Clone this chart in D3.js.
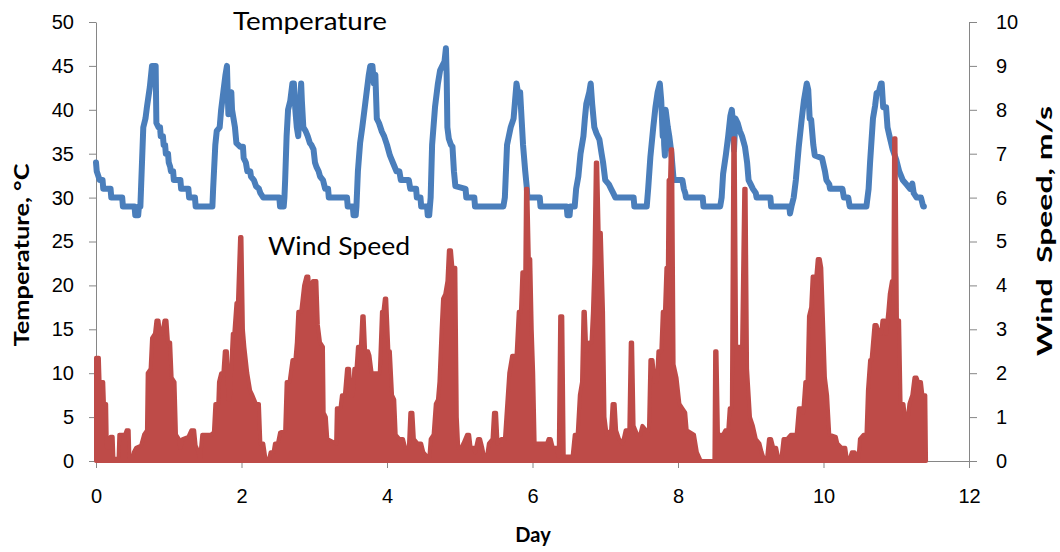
<!DOCTYPE html>
<html>
<head>
<meta charset="utf-8">
<script src="https://cdn.jsdelivr.net/npm/d3@7"></script>
<style>
  body { margin: 0; background: #fff; }
  svg { display: block; font-family: Lato, "Open Sans", sans-serif; }
  .axis path, .axis line { stroke: #868686; }
  .axis text { font-size: 20px; fill: #000; }
</style>
</head>
<body>
<svg id="chart" width="1060" height="552"></svg>
<script>
// day of each temperature reading, and the reading (deg C)
var tempDay = [0.00,0.01,0.03,0.05,0.09,0.10,0.20,0.21,0.36,0.37,0.53,0.54,0.58,0.59,0.61,0.65,0.68,0.70,0.74,0.77,0.82,0.83,0.86,0.88,0.89,0.92,0.93,0.95,0.96,0.99,
  1.00,1.02,1.03,1.06,1.07,1.16,1.17,1.27,1.28,1.36,1.37,1.60,1.61,1.64,1.66,1.70,1.72,1.75,1.78,1.80,1.81,1.82,1.84,1.86,1.87,1.89,1.91,1.93,1.98,
  2.02,2.03,2.06,2.08,2.12,2.13,2.17,2.20,2.24,2.26,2.30,2.52,2.53,2.58,2.59,2.60,2.62,2.64,2.67,2.70,2.72,2.74,2.76,2.78,2.80,2.82,2.83,2.85,2.88,2.91,2.94,2.96,2.99,
  3.01,3.03,3.06,3.08,3.12,3.15,3.19,3.20,3.45,3.46,3.53,3.54,3.57,3.58,3.60,3.63,3.66,3.69,3.72,3.75,3.77,3.80,3.82,3.84,3.86,3.89,3.93,3.96,
  4.00,4.04,4.08,4.13,4.17,4.19,4.30,4.32,4.40,4.41,4.46,4.47,4.55,4.56,4.58,4.60,4.62,4.66,4.70,4.73,4.76,4.79,4.81,4.82,4.83,4.85,4.88,4.90,4.92,4.94,
  5.08,5.09,5.20,5.21,5.60,5.62,5.65,5.70,5.74,5.76,5.78,5.80,5.83,5.85,5.87,5.90,5.92,5.93,
  6.10,6.11,6.47,6.48,6.51,6.52,6.58,6.60,6.63,6.66,6.70,6.72,6.74,6.78,6.80,6.82,6.85,6.88,6.92,6.95,6.97,
  7.00,7.05,7.08,7.11,7.14,7.39,7.40,7.57,7.59,7.62,7.66,7.69,7.72,7.75,7.77,7.79,7.80,7.81,7.82,7.83,7.86,7.88,7.91,7.94,
  8.06,8.08,8.10,8.11,8.34,8.35,8.58,8.60,8.62,8.66,8.69,8.72,8.74,8.76,8.77,8.79,8.82,8.85,8.88,8.92,8.95,8.97,
  9.00,9.03,9.07,9.08,9.27,9.28,9.53,9.54,9.56,9.59,9.62,9.66,9.70,9.73,9.75,9.77,9.79,9.81,9.83,9.86,9.88,9.98,
  10.02,10.04,10.08,10.09,10.26,10.28,10.34,10.36,10.59,10.62,10.64,10.68,10.71,10.73,10.76,10.79,10.80,10.82,10.86,10.88,10.91,10.95,
  11.00,11.04,11.09,11.14,11.19,11.22,11.24,11.28,11.34,11.37,11.38];
var tempC = [34,33,32.5,32,32,31,31,30,30,29,29,28,28,29,29,38,39,40.3,42.6,45,45,38.5,38,38,37,37,36,36,35,35,
  34,33.5,33,33,32,32,31,31,30,30,29,29,31,36,37.6,38,40,42,44,45,42,39.5,41,42,40,39,38,36.2,35.8,
  35.8,34.5,34,33,33,32.4,32,31.3,31,30.5,30,30,29,29,30,32,37,40,41,43,43,40,38,37,40,43,41,38,37.6,37,36.2,36,35.5,
  34,33.5,33,32.4,32,31,31,30,30,29,29,28,28,29,33,36.2,38,40,42,44,45,45,43,44,39,38.5,37.5,37,
  36,34.8,34,33,33,32,32,31,31,30,30,29,29,28,28,30,36,40.3,43,44.5,45,45.5,47,44,38,36.7,36,35.8,33,31.3,
  31,30,30,29,29,30,36,38,39,41,43,42,42,39,36,33,31.3,30,
  30,29,29,28,28,29,29,31,32.4,35,37,39,40.7,42,43,40.7,38,37.3,36.6,35,34,
  32,31.5,31,30.5,30,30,29,29,31,34.6,38,40.3,42,43,41,37,40,36,34.8,40,38,37,35,32,
  32,31,30.5,30,30,29,29,30,32.7,35,37,39.3,40,38,35.4,39,38.5,37.6,37,35.8,34,32,
  31.5,31,30.5,30,30,29,29,28.2,29,30,32,35.8,38.9,41,42,43,42.3,39,38.9,36,34.8,34.5,
  33,32,31.5,31,31,30,30,29,29,31,34,39,40.5,41.9,42,43,43,40.3,40.3,38,36.9,35.5,
  34.3,33,32,31.5,31,31.6,30.5,30,30,29,29];

// day of each wind reading, and the reading (m/s)
var windDay = [0.00,0.04,0.05,0.10,0.11,0.14,0.15,0.19,0.20,0.23,0.24,0.31,0.32,0.40,0.42,0.45,0.46,0.50,0.52,0.55,0.62,0.66,0.70,0.71,0.75,0.77,0.81,0.83,0.86,0.88,0.91,0.94,0.97,0.99,
  1.02,1.04,1.08,1.10,1.14,1.16,1.19,1.27,1.31,1.35,1.37,1.41,1.43,1.46,1.58,1.62,1.64,1.68,1.69,1.72,1.75,1.77,1.80,1.82,1.84,1.86,1.88,1.90,1.93,1.95,1.98,
  2.00,2.02,2.04,2.08,2.12,2.15,2.20,2.24,2.26,2.30,2.33,2.38,2.40,2.44,2.46,2.50,2.53,2.60,2.62,2.66,2.70,2.74,2.76,2.78,2.82,2.86,2.89,2.92,2.93,2.96,2.98,
  3.03,3.05,3.08,3.12,3.13,3.16,3.18,3.30,3.31,3.36,3.38,3.42,3.45,3.48,3.50,3.53,3.55,3.58,3.60,3.64,3.66,3.68,3.70,3.74,3.76,3.79,3.90,3.93,3.95,3.97,3.99,
  4.02,4.04,4.07,4.10,4.12,4.17,4.22,4.25,4.30,4.32,4.35,4.37,4.42,4.47,4.50,4.55,4.58,4.60,4.64,4.67,4.70,4.72,4.75,4.77,4.80,4.83,4.85,4.88,4.90,4.94,4.96,4.98,
  5.02,5.05,5.10,5.13,5.15,5.19,5.21,5.25,5.28,5.31,5.34,5.37,5.40,5.45,5.47,5.50,5.52,5.57,5.62,5.64,5.68,5.72,5.78,5.81,5.84,5.86,5.90,5.91,5.93,5.95,5.97,5.99,
  6.01,6.03,6.20,6.22,6.25,6.28,6.33,6.36,6.38,6.41,6.43,6.55,6.58,6.62,6.65,6.68,6.70,6.72,6.74,6.78,6.81,6.83,6.85,6.87,6.89,6.91,6.94,6.97,6.99,
  7.02,7.08,7.10,7.13,7.15,7.19,7.24,7.28,7.33,7.35,7.37,7.39,7.44,7.48,7.51,7.56,7.60,7.62,7.65,7.68,7.71,7.73,7.77,7.79,7.82,7.84,7.86,7.87,7.89,7.90,7.92,7.94,7.98,
  8.02,8.06,8.10,8.12,8.22,8.26,8.30,8.32,8.50,8.51,8.53,8.55,8.62,8.65,8.69,8.71,8.74,8.76,8.78,8.80,8.88,8.91,8.93,8.95,8.99,
  9.03,9.07,9.12,9.15,9.19,9.22,9.25,9.28,9.31,9.35,9.38,9.42,9.45,9.50,9.55,9.63,9.66,9.70,9.72,9.75,9.78,9.80,9.83,9.85,9.90,9.92,9.95,9.97,9.99,
  10.02,10.05,10.08,10.17,10.19,10.25,10.30,10.32,10.36,10.39,10.43,10.45,10.48,10.50,10.55,10.59,10.61,10.64,10.66,10.70,10.73,10.76,10.79,10.81,10.84,10.86,10.89,10.91,10.94,10.96,10.97,10.99,
  11.01,11.04,11.06,11.10,11.12,11.16,11.18,11.22,11.25,11.28,11.30,11.34,11.36,11.40,11.41];
var windMs = [2.35,2.35,1.8,1.8,1.3,1.3,0.3,0.3,0.55,0.55,0.05,0.05,0.6,0.6,0.7,0.7,0.05,0.05,0.2,0.3,0.35,0.6,0.7,2.0,2.1,2.8,2.9,3.2,3.2,2.9,2.9,3.2,3.2,2.7,
  2.7,1.9,1.8,0.6,0.5,0.3,0.5,0.55,0.7,0.7,0.35,0.2,0.05,0.6,0.6,0.65,1.3,1.3,1.8,2.0,2.0,2.5,2.5,1.4,1.4,2.2,2.9,2.9,3.6,3.6,5.1,
  5.1,3.0,2.6,2.0,1.6,1.5,1.3,1.3,0.4,0.4,0.05,0.05,0.2,0.2,0.4,0.4,0.65,0.7,1.8,1.8,2.3,2.3,2.7,3.4,3.4,4.0,4.2,4.2,3.9,3.9,4.1,
  4.1,3.1,2.7,2.6,1.1,1.0,0.5,0.4,1.2,1.2,1.5,1.5,2.1,2.1,1.5,1.5,2.1,2.1,2.6,2.6,3.3,3.3,2.5,2.5,2.4,2.0,2.0,3.4,3.4,3.7,3.7,
  2.5,2.5,1.5,1.4,0.6,0.5,0.5,0.3,0.3,1.1,1.1,0.5,0.4,0.4,0.2,0.1,0.05,0.5,0.6,1.3,1.4,1.8,3.0,3.7,3.8,4.1,4.8,4.8,4.4,4.4,1.0,0.3,
  0.3,0.4,0.6,0.6,0.3,0.3,0.2,0.5,0.5,0.3,0.05,0.05,0.4,0.5,1.1,1.1,0.4,0.5,0.5,1.0,2.0,2.4,2.4,3.4,3.4,4.3,4.3,6.2,6.2,4.6,4.6,3.0,
  2.0,0.4,0.4,0.5,0.5,0.3,0.3,0.1,3.3,3.3,0.1,0.1,0.6,0.6,1.5,1.8,3.4,3.4,2.5,2.7,2.7,3.4,4.5,6.8,6.8,5.2,5.2,3.4,1.0,
  0.6,0.7,1.3,1.3,0.7,0.5,0.4,0.7,0.7,2.7,2.7,0.8,0.6,0.6,0.8,0.7,0.7,2.3,2.3,1.8,1.8,2.5,2.5,3.4,3.4,4.4,4.4,6.4,6.4,7.1,7.1,2.2,1.9,
  1.3,1.2,1.1,0.7,0.6,0.2,0.05,0,0,2.5,2.5,0.6,0.6,0.7,0.7,1.2,1.2,7.35,7.35,2.6,2.6,6.2,6.2,2.1,1.0,
  0.8,0.5,0.4,0.2,0,0,0.5,0.5,0.3,0.3,0.05,0.05,0.5,0.5,0.6,0.6,1.2,1.2,1.1,1.8,1.8,3.3,3.5,4.2,4.2,4.6,4.6,4.4,3.4,
  1.9,1.5,0.6,0.55,0.4,0.3,0.3,0.05,0.05,0.2,0.2,0.05,0.05,0.5,0.6,0.6,1.6,2.3,2.3,3.1,3.1,2.9,2.9,3.2,3.2,2.9,3.4,3.8,4.1,4.1,7.35,7.35,
  3.2,3.2,1.3,1.3,1.0,1.0,1.3,1.5,1.9,1.9,1.8,1.8,1.5,1.5,0];

var dayTicks = [0, 2, 4, 6, 8, 10, 12];
var tempTicks = [0, 5, 10, 15, 20, 25, 30, 35, 40, 45, 50];
var windTicks = [0, 1, 2, 3, 4, 5, 6, 7, 8, 9, 10];

(function() {
    "use strict";
    var svg = d3.select("#chart"),
        left = 96, right = 969, top = 22, bottom = 461;

    var x = d3.scaleLinear().domain([0, 12]).range([left, right]),
        yT = d3.scaleLinear().domain([0, 50]).range([bottom, top]),
        yW = d3.scaleLinear().domain([0, 10]).range([bottom, top]);

    // axes
    svg.append("g").attr("class", "axis")
        .attr("transform", "translate(0," + bottom + ")")
        .call(d3.axisBottom(x).tickValues(dayTicks).tickSize(7).tickPadding(21).tickSizeOuter(0));
    svg.append("g").attr("class", "axis")
        .attr("transform", "translate(" + left + ",0)")
        .call(d3.axisLeft(yT).tickValues(tempTicks).tickSize(7).tickPadding(15).tickSizeOuter(0));
    svg.append("g").attr("class", "axis")
        .attr("transform", "translate(" + right + ",0)")
        .call(d3.axisRight(yW).tickValues(windTicks).tickSize(8).tickPadding(19).tickSizeOuter(0));

    // temperature line
    var tempPts = tempDay.map(function(d, i) { return [d, tempC[i]]; });
    svg.append("path")
        .datum(tempPts)
        .attr("fill", "none")
        .attr("stroke", "#4a7ebb")
        .attr("stroke-width", 6)
        .attr("stroke-linejoin", "round")
        .attr("stroke-linecap", "round")
        .attr("d", d3.line().x(function(d) { return x(d[0]); }).y(function(d) { return yT(d[1]); }));

    // wind speed, filled down to zero
    var windPts = windDay.map(function(d, i) { return [d, windMs[i]]; });
    svg.append("path")
        .datum(windPts)
        .attr("fill", "#be4b48")
        .attr("stroke", "#be4b48")
        .attr("stroke-width", 4)
        .attr("stroke-linejoin", "round")
        .attr("d", d3.area().x(function(d) { return x(d[0]); }).y0(yW(0)).y1(function(d) { return yW(d[1]); }));

    // labels
    svg.append("text").attr("x", 233).attr("y", 30)
        .attr("font-size", 25).attr("textLength", 154).attr("lengthAdjust", "spacingAndGlyphs")
        .text("Temperature");
    svg.append("text").attr("x", 268).attr("y", 254.5)
        .attr("font-size", 25).attr("textLength", 142).attr("lengthAdjust", "spacingAndGlyphs")
        .text("Wind Speed");
    svg.append("text").attr("x", 533).attr("y", 541.5)
        .attr("text-anchor", "middle").attr("font-size", 20).attr("font-weight", "bold")
        .text("Day");
    svg.append("text").attr("transform", "translate(29,255) rotate(-90)")
        .attr("text-anchor", "middle").attr("font-size", 21).attr("font-weight", "bold")
        .attr("textLength", 183).attr("lengthAdjust", "spacingAndGlyphs")
        .text("Temperature, \u00b0C");
    svg.append("text").attr("transform", "translate(1052,231) rotate(-90)")
        .attr("text-anchor", "middle").attr("font-size", 21).attr("font-weight", "bold")
        .attr("xml:space", "preserve").style("white-space", "pre")
        .attr("textLength", 250).attr("lengthAdjust", "spacingAndGlyphs")
        .text("Wind  Speed, m/s");
})();
</script>
</body>
</html>
